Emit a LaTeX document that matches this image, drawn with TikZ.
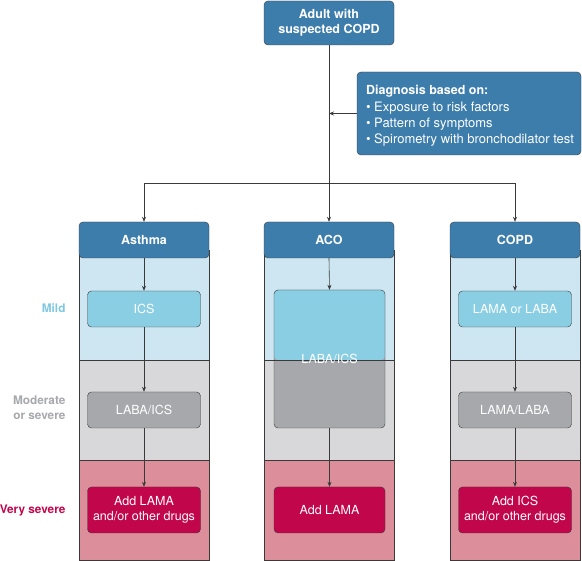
\documentclass[tikz,border=0pt]{standalone}
\usepackage{fontspec}
\setmainfont{TeX Gyre Heros}
\usetikzlibrary{arrows.meta}

\definecolor{headblue}{HTML}{3D7DAC}
\definecolor{mildbg}{HTML}{CDE6F1}
\definecolor{mildbox}{HTML}{8ACEE3}
\definecolor{modbg}{HTML}{D8D8DA}
\definecolor{modbox}{HTML}{A7A8AC}
\definecolor{sevbg}{HTML}{DC8E9A}
\definecolor{sevbox}{HTML}{C1064B}
\definecolor{mildtext}{HTML}{7FC8E0}
\definecolor{linegray}{HTML}{3A3A3A}

\begin{document}
\begin{tikzpicture}[
    x=1pt, y=-1pt,
    header/.style={draw=linegray, fill=headblue, rounded corners=4pt, minimum width=130pt, minimum height=36pt, text=white, font=\fontsize{12.5}{15}\selectfont\bfseries, align=center, inner sep=2pt},
    drug/.style={draw=linegray, rounded corners=4pt, minimum width=113pt, minimum height=36pt, text=white, font=\fontsize{12.5}{15}\selectfont, align=center, inner sep=2pt},
    level/.style={anchor=east, font=\fontsize{11.8}{15}\selectfont\bfseries, align=right},
    link/.style={draw=linegray, line width=0.6pt, -{Stealth[length=5pt, width=4pt]}}
]
\useasboundingbox (0,0) rectangle (582,561);

% Column backgrounds
\foreach \cx in {144,329,515} {
    \fill[mildbg] (\cx-65,250) rectangle (\cx+65,360);
    \fill[modbg] (\cx-65,360) rectangle (\cx+65,460);
    \fill[sevbg] (\cx-65,460) rectangle (\cx+65,560);
    \draw[linegray, line width=0.6pt] (\cx-65,250) rectangle (\cx+65,560);
    \draw[linegray, line width=0.6pt] (\cx-65,460) -- (\cx+65,460);
}

% Define top boxes
\node[header, minimum height=44pt] (adult) at (329,23) {Adult with\\suspected COPD};
\node[header, minimum width=224pt, minimum height=83pt] (diag) at (469,113.5) {};
\node[text=white, align=left, font=\fontsize{13}{16}\selectfont, inner sep=0pt] (diagtext) at (470,116)
    {{\fontsize{12.5}{15}\selectfont\bfseries Diagnosis based on:}\\[1pt]
     • Exposure to risk factors\\
     • Pattern of symptoms\\
     • Spirometry with bronchodilator test};

% Define column headers
\node[header] (asthma) at (144,240) {Asthma};
\node[header] (aco) at (329,240) {ACO};
\node[header] (copd) at (515,240) {COPD};

% Define treatment boxes
\node[drug, fill=mildbox] (ics) at (144,309) {ICS};
\node[drug, fill=modbox] (labaics) at (144,410) {LABA/ICS};
\node[drug, fill=sevbox, minimum height=46pt] (addlama) at (144,510) {Add LAMA\\and/or other drugs};

\node[drug, fill=modbox, minimum width=111pt, minimum height=138pt,
    path picture={\fill[mildbox] (path picture bounding box.north west) rectangle ([yshift=-1pt]path picture bounding box.east);}] (acobox) at (329.5,359) {};
\node[drug, fill=sevbox, minimum width=111pt, minimum height=46pt] (acolama) at (329.5,510) {Add LAMA};

\node[drug, fill=mildbox] (lamalaba) at (515,309) {LAMA or LABA};
\node[drug, fill=modbox] (dual) at (515,410) {LAMA/LABA};
\node[drug, fill=sevbox, minimum height=46pt] (addics) at (515,510) {Add ICS\\and/or other drugs};

% Band boundary lines
\foreach \cx in {144,329,515}
    \draw[linegray, line width=0.6pt] (\cx-65,360) -- (\cx+65,360);
\node[text=white, font=\fontsize{12.5}{15}\selectfont] (acolabel) at (acobox) {LABA/ICS};

% Severity labels
\node[level, text=mildtext] (mild) at (69,308) {Mild};
\node[level, text=modbox] (moderate) at (69,408) {Moderate\\or severe};
\node[level, text=sevbox] (severe) at (69,510) {Very severe};

% Define connectors
\coordinate (split) at (329,183);
\draw[link] (adult.south) -- (aco.north);
\draw[link] (diag.west) -- (diag.west -| adult.south);
\draw[link] (split) -| (asthma.north);
\draw[link] (split) -| (copd.north);

\draw[link] (asthma.south) -- (ics.north);
\draw[link] (ics.south) -- (labaics.north);
\draw[link] (labaics.south) -- (addlama.north);

\draw[link] (aco.south) -- (acobox.north);
\draw[link] (acobox.south) -- (acolama.north);

\draw[link] (copd.south) -- (lamalaba.north);
\draw[link] (lamalaba.south) -- (dual.north);
\draw[link] (dual.south) -- (addics.north);

\end{tikzpicture}
\end{document}
